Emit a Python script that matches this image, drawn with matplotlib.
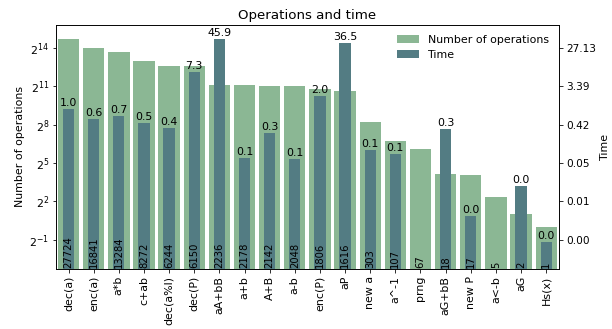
import numpy as np
import matplotlib
matplotlib.use("Agg")
import matplotlib.pyplot as plt
from matplotlib.ticker import FixedLocator, NullLocator, FormatStrFormatter

operations = ["dec(a)", "enc(a)", "a*b", "c+ab", "dec(a%l)", "dec(P)", "aA+bB",
              "a+b", "A+B", "a-b", "enc(P)", "aP", "new a", "a^-1", "prng",
              "aG+bB", "new P", "a<-b", "aG", "Hs(x)"]
counts = [27724, 16841, 13284, 8272, 6244, 6150, 2236, 2178, 2142, 2048,
          1806, 1616, 303, 107, 67, 18, 17, 5, 2, 1]
# time per operation, prng and a<-b were not timed
times = [0.98, 0.58, 0.68, 0.46, 0.36, 7.3, 45.9, 0.07, 0.27, 0.065,
         2.0, 36.5, 0.106, 0.086, np.nan, 0.34, 0.0029, np.nan, 0.015, 0.00072]

GREEN = "#8bb794"
TEAL = "#537c83"

x = np.arange(len(operations))
fig, ax = plt.subplots(figsize=(612 / 72, 329 / 72), dpi=72)
fig.subplots_adjust(left=0.0915, right=0.913, top=0.925, bottom=0.182)

count_bars = ax.bar(x, counts, width=0.85, color=GREEN, label="Number of operations")
ax.set_yscale("log", base=2)
ylo, yhi = 0.1, 59000
ax.set_ylim(ylo, yhi)
ax.set_xlim(-0.5, len(operations) - 0.5)
left_ticks = [2.0 ** e for e in range(-1, 15, 3)]
ax.yaxis.set_major_locator(FixedLocator(left_ticks))
ax.yaxis.set_minor_locator(NullLocator())
ax.set_xticks(x)
ax.set_xticklabels(operations, rotation=90, fontsize=11)
ax.tick_params(axis="y", labelsize=11)
ax.set_ylabel("Number of operations", fontsize=11)
ax.set_title("Operations and time", fontsize=13.4)

# time axis shares the same log positions, scaled so the slowest op lines up with the biggest count
scale = np.nanmax(times) / max(counts)
ax2 = ax.twinx()
ax2.set_yscale("log")
ax2.set_ylim(ylo * scale, yhi * scale)
ax2.yaxis.set_major_locator(FixedLocator([t * scale for t in left_ticks]))
ax2.yaxis.set_minor_locator(NullLocator())
ax2.yaxis.set_major_formatter(FormatStrFormatter("%.2f"))
ax2.tick_params(axis="y", labelsize=10.5)
ax2.set_ylabel("Time", fontsize=11)

timed = [i for i, t in enumerate(times) if not np.isnan(t)]
time_bars = ax2.bar(x[timed], [times[i] for i in timed], width=0.45, color=TEAL, label="Time")
ax2.bar_label(time_bars, labels=["%.1f" % times[i] for i in timed], padding=1, fontsize=11)

for xi, c in zip(x, counts):
    ax2.text(xi, 0.004, str(c), rotation=90, ha="center", va="bottom", fontsize=10,
             transform=ax2.get_xaxis_transform())

handles = [count_bars, time_bars]
ax2.legend(handles, [h.get_label() for h in handles], loc="upper right", frameon=False, fontsize=11)

fig.savefig("out.png", dpi=72)
